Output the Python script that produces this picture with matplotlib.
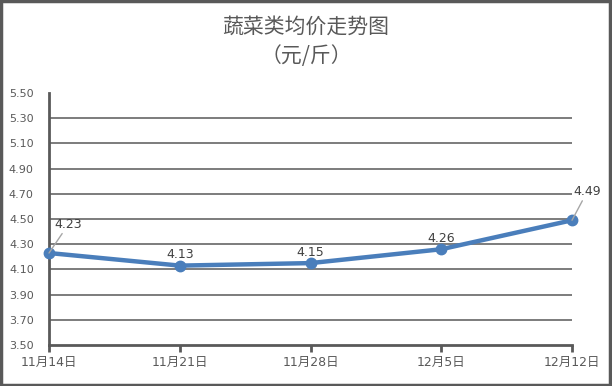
import matplotlib
matplotlib.use('Agg')
import matplotlib.pyplot as plt
from matplotlib.patches import Rectangle
import numpy as np

# data
dates = ["11月14日", "11月21日", "11月28日", "12月5日", "12月12日"]
prices = [4.23, 4.13, 4.15, 4.26, 4.49]
yticks = [3.50, 3.70, 3.90, 4.10, 4.30, 4.50, 4.70, 4.90, 5.10, 5.30, 5.50]

plt.rcParams['font.family'] = ['DejaVu Sans', 'Noto Sans CJK SC']

grey = '#595959'
blue = '#4a7ebb'

fig = plt.figure(figsize=(6.12, 3.86), dpi=100)
ax = fig.add_axes([49/612, 1-345/386, (572-49)/612, (345-93)/386])

x = np.arange(len(dates))
ax.plot(x, prices, color=blue, linewidth=3.2, marker='o', markersize=7.5,
        solid_capstyle='round', zorder=3, clip_on=False)

ax.set_xlim(0, len(dates)-1)
ax.set_ylim(yticks[0], yticks[-1])
ax.set_yticks(yticks)
ax.set_yticklabels(["%.2f" % v for v in yticks], fontsize=8, color=grey)
ax.set_xticks(x)
ax.set_xticklabels(dates, fontsize=9, color=grey)
ax.tick_params(axis='y', length=0, pad=11)
ax.tick_params(axis='x', length=5, width=2, color=grey, direction='out', pad=3)

# gridlines (none on the top value)
for v in yticks[1:-1]:
    ax.axhline(v, color=grey, linewidth=1.1, zorder=1)

for s in ['top', 'right']:
    ax.spines[s].set_visible(False)
ax.spines['left'].set_color(grey)
ax.spines['left'].set_linewidth(2)
ax.spines['bottom'].set_color(grey)
ax.spines['bottom'].set_linewidth(2)

# data labels
lab = dict(fontsize=9, color='#404040', ha='center', va='bottom', zorder=4)
for i in (1, 2, 3):
    ax.annotate("%.2f" % prices[i], (x[i], prices[i]), xytext=(0, 3),
                textcoords='offset points', **lab)
# first and last with leader lines
ax.annotate("%.2f" % prices[0], (x[0], prices[0]), xytext=(14, 16),
            textcoords='offset points',
            arrowprops=dict(arrowstyle='-', color='#a6a6a6', lw=1,
                            shrinkA=0, shrinkB=0), **lab)
ax.annotate("%.2f" % prices[-1], (x[-1], prices[-1]), xytext=(11, 16),
            textcoords='offset points',
            arrowprops=dict(arrowstyle='-', color='#a6a6a6', lw=1,
                            shrinkA=0, shrinkB=0), **lab)

fig.text(0.5, 1-27/386, "蔬菜类均价走势图", ha='center', va='center',
         fontsize=15, color=grey, family=['Noto Sans CJK SC'])
fig.text(0.5, 1-56/386, "（元/斤）", ha='center', va='center',
         fontsize=15, color=grey, family=['Noto Sans CJK SC'])

# outer frame
fig.patches.append(Rectangle((0.002, 0.003), 0.995, 0.994, transform=fig.transFigure,
                             fill=False, edgecolor=grey, linewidth=2.5))

fig.savefig('out.png', dpi=100)
